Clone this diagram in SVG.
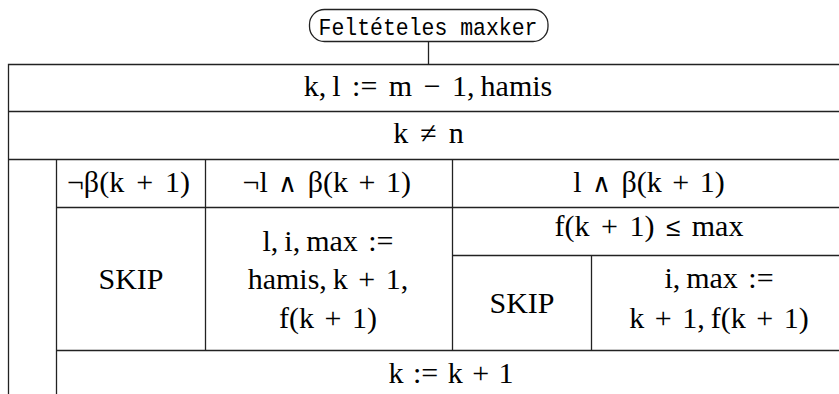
<svg xmlns="http://www.w3.org/2000/svg" width="839" height="394" viewBox="0 0 839 394">
<style>
.ln{stroke:#222;stroke-width:1.3;fill:none}
.t{font-family:"Liberation Serif","DejaVu Serif",serif;font-size:30px;fill:#000;text-anchor:middle;word-spacing:3px}
.s{font-family:"Liberation Serif","DejaVu Serif",serif;font-size:30px;fill:#000;text-anchor:middle}
.tt{font-family:"Liberation Mono","DejaVu Sans Mono",monospace;font-size:24px;fill:#000;text-anchor:middle}
.op{font-family:"DejaVu Sans",sans-serif;font-size:26px;font-weight:200}
</style>
<rect width="839" height="394" fill="#fff"/>
<g id="title">
<rect class="ln" x="309.5" y="9.5" width="238.5" height="32" rx="15" ry="15"/>
<text class="tt" x="428" y="35" textLength="219" lengthAdjust="spacingAndGlyphs">Feltételes maxker</text>
</g>
<g id="connectors">
<line class="ln" x1="428.5" y1="41.5" x2="428.5" y2="64.5"/>
</g>
<g id="frame">
<polyline class="ln" points="848,64.5 8.5,64.5 8.5,395"/>
<line class="ln" x1="8.5" y1="111.5" x2="848" y2="111.5"/>
<line class="ln" x1="8.5" y1="159.5" x2="848" y2="159.5"/>
<line class="ln" x1="56.5" y1="159.5" x2="56.5" y2="395"/>
<line class="ln" x1="56.5" y1="207.5" x2="848" y2="207.5"/>
<line class="ln" x1="452.5" y1="255.5" x2="848" y2="255.5"/>
<line class="ln" x1="56.5" y1="350.5" x2="848" y2="350.5"/>
<line class="ln" x1="205.5" y1="159.5" x2="205.5" y2="350.5"/>
<line class="ln" x1="452.5" y1="159.5" x2="452.5" y2="350.5"/>
<line class="ln" x1="591.5" y1="255.5" x2="591.5" y2="350.5"/>
</g>
<g id="init"><text class="t" x="428" y="96" style="word-spacing:4px">k,&#8201;l := m − 1,&#8201;hamis</text></g>
<g id="loop"><text class="t" x="428.5" y="143" style="word-spacing:4.5px">k ≠ n</text></g>
<g id="h1"><text class="t" x="128.5" y="192" style="word-spacing:4.5px">¬β(k + 1)</text></g>
<g id="h2"><text class="t" x="326.7" y="192" style="word-spacing:3px">¬l <tspan class="op">∧</tspan> β(k + 1)</text></g>
<g id="h3"><text class="t" x="649" y="192" style="word-spacing:3px">l <tspan class="op">∧</tspan> β(k + 1)</text></g>
<g id="skip1"><text class="s" x="131" y="289">SKIP</text></g>
<g id="assign1">
<text class="t" x="328" y="251">l,&#8201;i,&#8201;max :=</text>
<text class="t" x="328" y="289">hamis,&#8201;k + 1,</text>
<text class="t" x="328" y="328">f(k + 1)</text>
</g>
<g id="cond"><text class="t" x="649" y="236" style="word-spacing:4px">f(k + 1) <tspan class="op">≤</tspan> max</text></g>
<g id="skip2"><text class="s" x="522" y="313">SKIP</text></g>
<g id="assign2">
<text class="t" x="719" y="288">i,&#8201;max :=</text>
<text class="t" x="719" y="328">k + 1,&#8201;f(k + 1)</text>
</g>
<g id="incr"><text class="t" x="451" y="383" style="word-spacing:2px">k := k + 1</text></g>
</svg>
